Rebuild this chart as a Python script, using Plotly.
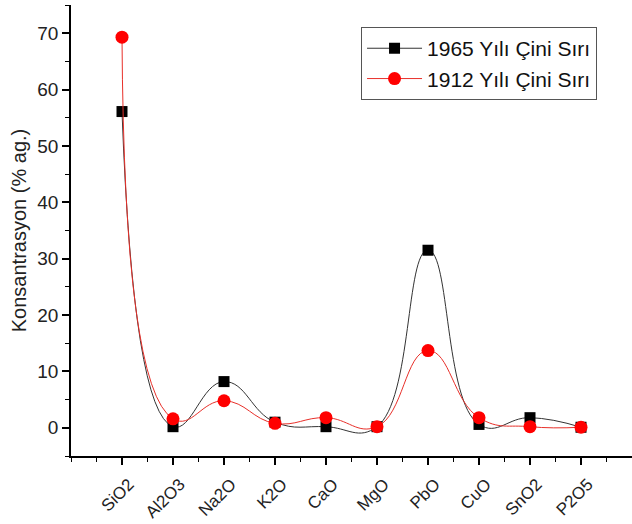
import plotly.graph_objects as go

categories = ["SiO2", "Al2O3", "Na2O", "K2O", "CaO", "MgO", "PbO", "CuO", "SnO2", "P2O5"]
values_1965 = [56.1, 0.2, 8.2, 1.0, 0.2, 0.2, 31.5, 0.6, 1.8, 0.1]
values_1912 = [69.3, 1.6, 4.8, 0.8, 1.8, 0.2, 13.7, 1.8, 0.2, 0.1]
name_1965 = "1965 Yılı Çini Sırı"
name_1912 = "1912 Yılı Çini Sırı"
y_ticks = [0, 10, 20, 30, 40, 50, 60, 70]

xs = list(range(len(categories)))

fig = go.Figure()
fig.add_trace(go.Scatter(
    x=xs, y=values_1965, name=name_1965, mode="lines+markers",
    line=dict(color="#333333", width=1, shape="spline", smoothing=1.3),
    marker=dict(symbol="square", size=11, color="black"),
))
fig.add_trace(go.Scatter(
    x=xs, y=values_1912, name=name_1912, mode="lines+markers",
    line=dict(color="#e8302a", width=1, shape="spline", smoothing=1.3),
    marker=dict(symbol="circle", size=13, color="#ff0000"),
))

fig.update_layout(
    width=632, height=524,
    margin=dict(l=71, r=0, t=5, b=68),
    paper_bgcolor="white", plot_bgcolor="white",
    font=dict(family="Liberation Sans, Arial", color="#222222", size=18),
    showlegend=True,
    legend=dict(
        x=0.517, y=0.951, xanchor="left", yanchor="top",
        bordercolor="#555555", borderwidth=1, bgcolor="white",
        font=dict(size=21, color="#111111"),
        tracegroupgap=0, itemwidth=55,
    ),
    xaxis=dict(
        range=[-1, 10], tickmode="array", tickvals=xs, ticktext=categories,
        tickangle=-45, showgrid=False, zeroline=False, automargin=False,
        showline=True, linecolor="black", linewidth=1.5,
        ticks="outside", ticklen=7, tickwidth=1.5, tickcolor="black",
        minor=dict(dtick=0.5, tick0=-1, ticks="outside", ticklen=4, tickwidth=1, tickcolor="black"),
        tickfont=dict(size=17), ticklabelstandoff=3, ticklabelshift=7,
    ),
    yaxis=dict(
        range=[-5, 75], tickmode="array", tickvals=y_ticks,
        showgrid=False, zeroline=False, automargin=False,
        showline=True, linecolor="black", linewidth=1.5,
        ticks="outside", ticklen=7, tickwidth=1.5, tickcolor="black",
        minor=dict(dtick=5, tick0=-5, ticks="outside", ticklen=4, tickwidth=1, tickcolor="black"),
        title=dict(text="Konsantrasyon (% ag.)", font=dict(size=20), standoff=5),
        tickfont=dict(size=19),
    ),
)

fig.write_html("out.html", config={"displayModeBar": False},
               post_script="document.body.style.margin='0';")
